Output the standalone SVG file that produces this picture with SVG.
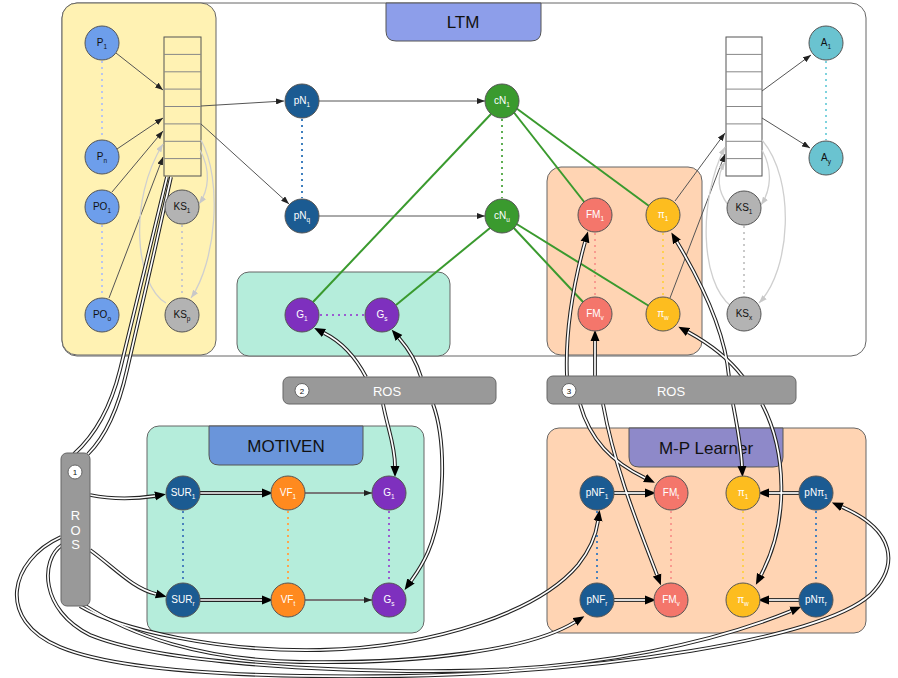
<svg xmlns="http://www.w3.org/2000/svg" xmlns:xlink="http://www.w3.org/1999/xlink" width="898" height="678" viewBox="0 0 898 678">
<style>
text{font-family:"Liberation Sans",Arial,sans-serif}
.t{font-size:10px;text-anchor:middle}
.s{font-size:6.5px}
.k{fill:#111}
.w{fill:#fff}
.nd{stroke:#555;stroke-width:1}
.thin{fill:none;stroke:#555;stroke-width:1;marker-end:url(#as)}
.lg{fill:none;stroke:#cfcfcf;stroke-width:1.3;marker-end:url(#ag)}
.gr{fill:none;stroke:#3a9a2e;stroke-width:2}
.dot{fill:none;stroke-width:2;stroke-dasharray:2 4}
.dk use{fill:none;stroke:#222;stroke-width:3.8;marker-end:url(#ah)}
.dk use.na{marker-end:none}
.wt use{fill:none;stroke:#fff;stroke-width:1.7}
.panel{stroke:#666;stroke-width:1}
.ttl{font-size:17px;text-anchor:middle;fill:#111}
.ros{fill:#999;stroke:#666;stroke-width:1}
.rt{font-size:13px;fill:#fff;text-anchor:middle}
.num{fill:#fff;stroke:#666;stroke-width:1}
.nt{font-size:8px;text-anchor:middle;fill:#111}
.stk{fill:none;stroke:#555;stroke-width:1}
.row{stroke:#888;stroke-width:1}
</style>
<defs>
<marker id="ah" markerUnits="userSpaceOnUse" markerWidth="12" markerHeight="10" viewBox="0 0 12 10" refX="0" refY="5" orient="auto"><path d="M0,0.5 L11,5 L0,9.5 z" fill="#000"/></marker>
<marker id="as" markerUnits="userSpaceOnUse" markerWidth="8" markerHeight="6" viewBox="0 0 8 6" refX="8" refY="3" orient="auto"><path d="M0,0 L8,3 L0,6 z" fill="#222"/></marker>
<marker id="ag" markerUnits="userSpaceOnUse" markerWidth="8" markerHeight="6" viewBox="0 0 8 6" refX="8" refY="3" orient="auto"><path d="M0,0 L8,3 L0,6 z" fill="#c8c8c8"/></marker>
<path id="d1" d="M90,495 C115,500 135,499 155,496"/>
<path id="d2" d="M90,550 C115,568 132,588 156,594"/>
<path id="d3" d="M167,177 C152,240 132,320 120,370 C110,410 94,436 74,454"/>
<path id="d4" d="M171,177 C157,240 139,320 127,370 C118,410 106,436 88,454"/>
<path id="d5" d="M80,606 C120,630 220,652 320,650 C440,647 540,610 578,565 C590,550 596,535 598,521"/>
<path id="d6" d="M84,605 C130,635 200,660 300,662 C420,664 530,650 575,622"/>
<path id="d7" d="M62,545 C40,560 40,610 90,635 C150,660 300,672 450,671 C600,670 720,640 791,611"/>
<path id="d8" d="M61,537 C10,560 -5,620 60,647 C120,672 250,678 400,676 C600,672 820,640 870,595 C900,565 895,530 842,507"/>
<path id="d9" d="M366,377 C355,356 340,341 324,333"/>
<path id="d10" d="M421,377 C416,360 406,346 399,338"/>
<path id="d11" d="M383,404 C388,430 395,445 395,466"/>
<path id="d12" d="M433,404 C446,440 446,510 428,552 C422,566 416,574 411,581"/>
<path id="d13" d="M567,377 C565,330 574,282 585,242"/>
<path id="d14" d="M595,377 L595,341"/>
<path id="d15" d="M729,377 C725,330 701,282 677,242"/>
<path id="d16" d="M743,377 C730,360 710,344 688,332"/>
<path id="d17" d="M580,404 C590,440 612,462 645,478"/>
<path id="d18" d="M603,404 C615,470 640,530 657,575"/>
<path id="d19" d="M733,404 C737,425 741,445 742,466"/>
<path id="d20" d="M762,404 C786,450 790,520 761,575"/>
<path id="d21" d="M200,493 L262,493"/>
<path id="d22" d="M200,600 L262,600"/>
<path id="d23" d="M614,493 L645,493"/>
<path id="d24" d="M614,600 L645,600"/>
<path id="d25" d="M799,493 L769,493"/>
<path id="d26" d="M799,600 L769,600"/>
</defs>

<g id="ltm">
<rect class="panel" x="62" y="3" width="804" height="353" rx="15" fill="#fff" stroke="#777"/>
<path d="M386,3 L541,3 L541,31 Q541,41 531,41 L396,41 Q386,41 386,31 Z" fill="#8d9eea" stroke="#555"/>
<text class="ttl" x="463" y="28">LTM</text>
</g>
<g id="perception-panel"><rect class="panel" x="62" y="3" width="154" height="352" rx="15" fill="#fff2b3"/></g>
<g id="goals-panel"><rect class="panel" x="237" y="272" width="213" height="84" rx="12" fill="#b5eddb"/></g>
<g id="fm-panel"><rect class="panel" x="547" y="167" width="155" height="188" rx="14" fill="#ffd4b3"/></g>
<g id="motiven">
<rect class="panel" x="147" y="426" width="277" height="207" rx="12" fill="#b5eddb"/>
<path d="M209,426 L363,426 L363,455 Q363,465 353,465 L219,465 Q209,465 209,455 Z" fill="#6a95da" stroke="#555"/>
<text class="ttl" x="286" y="452">MOTIVEN</text>
</g>
<g id="mp-learner">
<rect class="panel" x="547" y="428" width="319" height="205" rx="12" fill="#ffd4b3"/>
<path d="M629,428 L783,428 L783,457 Q783,467 773,467 L639,467 Q629,467 629,457 Z" fill="#8e89c9" stroke="#555"/>
<text class="ttl" x="706" y="454">M-P Learner</text>
</g>

<g id="stack-left">
<rect class="stk" x="164" y="37" width="37" height="139"/>
<path class="row" d="M164,54.4H201M164,71.8H201M164,89.1H201M164,106.5H201M164,123.9H201M164,141.3H201M164,158.6H201"/>
</g>
<g id="stack-right">
<rect class="stk" x="726" y="37" width="36" height="139" fill="#fff"/>
<path class="row" d="M726,54.4H762M726,71.8H762M726,89.1H762M726,106.5H762M726,123.9H762M726,141.3H762M726,158.6H762"/>
</g>

<g id="connectors">
<path class="dot" stroke="#b9c6ee" d="M102,61V139M102,225V297"/>
<path class="dot" stroke="#c9c9c9" d="M182,225V297M744,226V296"/>
<path class="dot" stroke="#3f7fbf" d="M302,119V198"/>
<path class="dot" stroke="#5fae52" d="M502,119V198"/>
<path class="dot" stroke="#9b5bd1" d="M320,315H364M389,511V582"/>
<path class="dot" stroke="#f99a8f" d="M595,233V296M671,511V582"/>
<path class="dot" stroke="#ffd050" d="M663,233V296M743,511V582"/>
<path class="dot" stroke="#7fd3de" d="M826,61V140"/>
<path class="dot" stroke="#4a82bd" d="M183,511V582M597,511V582M816,511V582"/>
<path class="dot" stroke="#ffa64d" d="M288,511V582"/>

<path class="thin" d="M116,53 L163,90"/>
<path class="thin" d="M117,149 L163,118"/>
<path class="thin" d="M112,192 L163,131"/>
<path class="thin" d="M109,298 L163,157"/>
<path class="lg" d="M166,303 C135,285 128,200 163,144"/>
<path class="lg" d="M200,150 C211,170 209,190 199,204"/>
<path class="lg" d="M201,140 C223,180 216,262 191,298"/>
<path class="thin" d="M201,106 L284,101" stroke-width="1.4"/>
<path class="thin" d="M201,124 L289,204" stroke-width="1.4"/>
<path class="thin" d="M319,101 L485,101"/>
<path class="thin" d="M319,216 L485,216"/>
<path class="thin" d="M762,91 L811,55"/>
<path class="thin" d="M762,118 L810,148"/>
<path class="thin" d="M675,201 L725,133"/>
<path class="thin" d="M670,298 L725,154"/>
<path class="lg" d="M762,150 C773,170 771,190 761,205"/>
<path class="lg" d="M762,140 C796,180 791,270 759,303"/>
<path class="lg" d="M731,306 C700,282 698,200 725,147"/>
<path class="lg" d="M728,205 C717,190 717,175 725,162"/>

<path class="gr" d="M491,114 L313,302"/>
<path class="gr" d="M490,228 L396,305"/>
<path class="gr" d="M512,110 L585,203"/>
<path class="gr" d="M516,108 L649,206"/>
<path class="gr" d="M511,225 L584,303"/>
<path class="gr" d="M515,223 L649,306"/>

<path d="M305,493 L372,493" fill="none" stroke="#777" stroke-width="2" marker-end="url(#as)"/>
<path d="M305,600 L372,600" fill="none" stroke="#777" stroke-width="2" marker-end="url(#as)"/>

<g class="dk">
<use href="#d1"/><use href="#d2"/><use class="na" href="#d3"/><use class="na" href="#d4"/><use href="#d5"/><use href="#d6"/><use href="#d7"/><use href="#d8"/><use href="#d9"/><use href="#d10"/><use href="#d11"/><use href="#d12"/><use href="#d13"/><use href="#d14"/><use href="#d15"/><use href="#d16"/><use href="#d17"/><use href="#d18"/><use href="#d19"/><use href="#d20"/><use href="#d21"/><use href="#d22"/><use href="#d23"/><use href="#d24"/><use href="#d25"/><use href="#d26"/>
</g>
<g class="wt">
<use href="#d1"/><use href="#d2"/><use href="#d3"/><use href="#d4"/><use href="#d5"/><use href="#d6"/><use href="#d7"/><use href="#d8"/><use href="#d9"/><use href="#d10"/><use href="#d11"/><use href="#d12"/><use href="#d13"/><use href="#d14"/><use href="#d15"/><use href="#d16"/><use href="#d17"/><use href="#d18"/><use href="#d19"/><use href="#d20"/><use href="#d21"/><use href="#d22"/><use href="#d23"/><use href="#d24"/><use href="#d25"/><use href="#d26"/>
</g>
</g>

<g id="ros1">
<rect class="ros" x="61" y="453" width="29" height="153" rx="6"/>
<circle class="num" cx="75" cy="472" r="7"/><text class="nt" x="75" y="475">1</text>
<text class="rt" x="75.5" y="520" font-size="12">R</text>
<text class="rt" x="75.5" y="534.5" font-size="12">O</text>
<text class="rt" x="75.5" y="549" font-size="12">S</text>
</g>
<g id="ros2">
<rect class="ros" x="283" y="377" width="213" height="27" rx="6"/>
<circle class="num" cx="302" cy="390.5" r="7"/><text class="nt" x="302" y="393.5">2</text>
<text class="rt" x="387" y="395.5">ROS</text>
</g>
<g id="ros3">
<rect class="ros" x="547" y="376" width="249" height="28" rx="6"/>
<circle class="num" cx="569" cy="390.5" r="7"/><text class="nt" x="569" y="393.5">3</text>
<text class="rt" x="671" y="395.5">ROS</text>
</g>

<g id="P1"><circle class="nd" cx="102" cy="43" r="17" fill="#6d9eeb"/><text class="t k" x="102" y="46">P<tspan class="s" dy="2.5">1</tspan></text></g>
<g id="Pn"><circle class="nd" cx="102" cy="157" r="17" fill="#6d9eeb"/><text class="t k" x="102" y="160">P<tspan class="s" dy="2.5">n</tspan></text></g>
<g id="PO1"><circle class="nd" cx="102" cy="207" r="17" fill="#6d9eeb"/><text class="t k" x="102" y="210">PO<tspan class="s" dy="2.5">1</tspan></text></g>
<g id="POo"><circle class="nd" cx="102" cy="315" r="17" fill="#6d9eeb"/><text class="t k" x="102" y="318">PO<tspan class="s" dy="2.5">o</tspan></text></g>
<g id="KS1"><circle class="nd" cx="182" cy="207" r="17" fill="#b3b3b3"/><text class="t k" x="182" y="210">KS<tspan class="s" dy="2.5">1</tspan></text></g>
<g id="KSp"><circle class="nd" cx="182" cy="315" r="17" fill="#b3b3b3"/><text class="t k" x="182" y="318">KS<tspan class="s" dy="2.5">p</tspan></text></g>
<g id="pN1"><circle class="nd" cx="302" cy="101" r="17" fill="#1b5b92"/><text class="t w" x="302" y="104">pN<tspan class="s" dy="2.5">1</tspan></text></g>
<g id="pNq"><circle class="nd" cx="302" cy="216" r="17" fill="#1b5b92"/><text class="t w" x="302" y="219">pN<tspan class="s" dy="2.5">q</tspan></text></g>
<g id="cN1"><circle class="nd" cx="502" cy="101" r="17" fill="#3a9a2e"/><text class="t w" x="502" y="104">cN<tspan class="s" dy="2.5">1</tspan></text></g>
<g id="cNu"><circle class="nd" cx="502" cy="216" r="17" fill="#3a9a2e"/><text class="t w" x="502" y="219">cN<tspan class="s" dy="2.5">u</tspan></text></g>
<g id="G1"><circle class="nd" cx="302" cy="315" r="17" fill="#7e30be"/><text class="t w" x="302" y="318">G<tspan class="s" dy="2.5">1</tspan></text></g>
<g id="Gs"><circle class="nd" cx="382" cy="315" r="17" fill="#7e30be"/><text class="t w" x="382" y="318">G<tspan class="s" dy="2.5">s</tspan></text></g>
<g id="FM1"><circle class="nd" cx="595" cy="215" r="17" fill="#f4766b"/><text class="t w" x="595" y="218">FM<tspan class="s" dy="2.5">1</tspan></text></g>
<g id="FMv"><circle class="nd" cx="595" cy="314" r="17" fill="#f4766b"/><text class="t w" x="595" y="317">FM<tspan class="s" dy="2.5">v</tspan></text></g>
<g id="pi1"><circle class="nd" cx="663" cy="215" r="17" fill="#fdbd1f"/><text class="t w" x="663" y="218">π<tspan class="s" dy="2.5">1</tspan></text></g>
<g id="piw"><circle class="nd" cx="663" cy="314" r="17" fill="#fdbd1f"/><text class="t w" x="663" y="317">π<tspan class="s" dy="2.5">w</tspan></text></g>
<g id="KS1r"><circle class="nd" cx="744" cy="208" r="17" fill="#b3b3b3"/><text class="t k" x="744" y="211">KS<tspan class="s" dy="2.5">1</tspan></text></g>
<g id="KSx"><circle class="nd" cx="744" cy="314" r="17" fill="#b3b3b3"/><text class="t k" x="744" y="317">KS<tspan class="s" dy="2.5">x</tspan></text></g>
<g id="A1"><circle class="nd" cx="826" cy="43" r="17" fill="#6ac3d0"/><text class="t k" x="826" y="46">A<tspan class="s" dy="2.5">1</tspan></text></g>
<g id="Ay"><circle class="nd" cx="826" cy="158" r="17" fill="#6ac3d0"/><text class="t k" x="826" y="161">A<tspan class="s" dy="2.5">y</tspan></text></g>

<g id="SUR1"><circle class="nd" cx="183" cy="493" r="17" fill="#1b5b92"/><text class="t w" x="183" y="496">SUR<tspan class="s" dy="2.5">1</tspan></text></g>
<g id="VF1"><circle class="nd" cx="288" cy="493" r="17" fill="#ff8a1f"/><text class="t w" x="288" y="496">VF<tspan class="s" dy="2.5">1</tspan></text></g>
<g id="G1m"><circle class="nd" cx="389" cy="493" r="17" fill="#7e30be"/><text class="t w" x="389" y="496">G<tspan class="s" dy="2.5">1</tspan></text></g>
<g id="SURr"><circle class="nd" cx="183" cy="600" r="17" fill="#1b5b92"/><text class="t w" x="183" y="603">SUR<tspan class="s" dy="2.5">r</tspan></text></g>
<g id="VFt"><circle class="nd" cx="288" cy="600" r="17" fill="#ff8a1f"/><text class="t w" x="288" y="603">VF<tspan class="s" dy="2.5">t</tspan></text></g>
<g id="Gsm"><circle class="nd" cx="389" cy="600" r="17" fill="#7e30be"/><text class="t w" x="389" y="603">G<tspan class="s" dy="2.5">s</tspan></text></g>

<g id="pNF1"><circle class="nd" cx="597" cy="493" r="17" fill="#1b5b92"/><text class="t w" x="597" y="496">pNF<tspan class="s" dy="2.5">1</tspan></text></g>
<g id="FMt"><circle class="nd" cx="671" cy="493" r="17" fill="#f4766b"/><text class="t w" x="671" y="496">FM<tspan class="s" dy="2.5">t</tspan></text></g>
<g id="pi1m"><circle class="nd" cx="743" cy="493" r="17" fill="#fdbd1f"/><text class="t w" x="743" y="496">π<tspan class="s" dy="2.5">1</tspan></text></g>
<g id="pNpi1"><circle class="nd" cx="816" cy="493" r="17" fill="#1b5b92"/><text class="t w" x="816" y="496">pNπ<tspan class="s" dy="2.5">1</tspan></text></g>
<g id="pNFr"><circle class="nd" cx="597" cy="600" r="17" fill="#1b5b92"/><text class="t w" x="597" y="603">pNF<tspan class="s" dy="2.5">r</tspan></text></g>
<g id="FMvm"><circle class="nd" cx="671" cy="600" r="17" fill="#f4766b"/><text class="t w" x="671" y="603">FM<tspan class="s" dy="2.5">v</tspan></text></g>
<g id="piwm"><circle class="nd" cx="743" cy="600" r="17" fill="#fdbd1f"/><text class="t w" x="743" y="603">π<tspan class="s" dy="2.5">w</tspan></text></g>
<g id="pNpir"><circle class="nd" cx="816" cy="600" r="17" fill="#1b5b92"/><text class="t w" x="816" y="603">pNπ<tspan class="s" dy="2.5">r</tspan></text></g>
</svg>
